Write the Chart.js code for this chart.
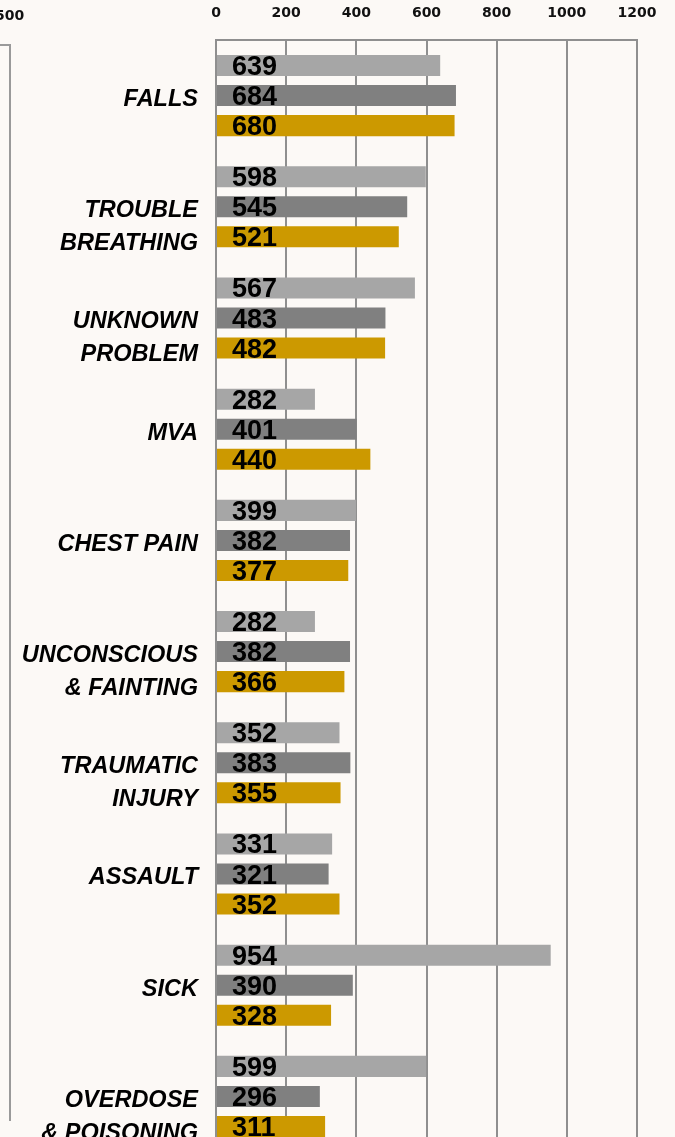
<!DOCTYPE html>
<html>
<head>
<meta charset="utf-8">
<script src="https://cdn.jsdelivr.net/npm/chart.js@4.4.0/dist/chart.umd.min.js"></script>
<style>
  html, body { margin: 0; padding: 0; background: #fcf9f6; overflow: hidden; }
  #wrap { position: relative; width: 675px; height: 1152px; }
  #sideFrame {
    position: absolute; left: -2px; top: 44px; width: 11px; height: 1075px;
    border-top: 2px solid #9a9a9a; border-right: 2px solid #9a9a9a;
  }
  #sideTick {
    position: absolute; left: -5px; top: 7px;
    font: bold 14px "DejaVu Sans", sans-serif; color: #111;
  }
</style>
</head>
<body>
<div id="wrap">
  <div id="sideFrame"></div>
  <div id="sideTick">500</div>
  <canvas id="callChart"></canvas>
</div>
<script>
const categories = [
    ["FALLS"],
    ["", "TROUBLE", "BREATHING"],
    ["", "UNKNOWN", "PROBLEM"],
    ["MVA"],
    ["CHEST PAIN"],
    ["", "UNCONSCIOUS", "& FAINTING"],
    ["", "TRAUMATIC", "INJURY"],
    ["ASSAULT"],
    ["SICK"],
    ["", "OVERDOSE", "& POISONING"]
];
const seriesA = [639, 598, 567, 282, 399, 282, 352, 331, 954, 599];
const seriesB = [684, 545, 483, 401, 382, 382, 383, 321, 390, 296];
const seriesC = [680, 521, 482, 440, 377, 366, 355, 352, 328, 311];
const xTicks = [0, 200, 400, 600, 800, 1000, 1200];

const gridGrey = "#8f8f8f";

// value labels drawn at the start of each bar
const barLabels = {
    id: "barLabels",
    afterDatasetsDraw(chart) {
        const ctx = chart.ctx;
        ctx.save();
        ctx.font = "bold 27px 'Liberation Sans', Arial, sans-serif";
        ctx.fillStyle = "#000";
        ctx.textAlign = "left";
        ctx.textBaseline = "alphabetic";
        chart.data.datasets.forEach((ds, i) => {
            chart.getDatasetMeta(i).data.forEach((bar, j) => {
                ctx.fillText(String(ds.data[j]), bar.base + 15, bar.y + 9.5);
            });
        });
        ctx.restore();
    }
};

const ctx = document.getElementById("callChart").getContext("2d");
new Chart(ctx, {
    type: "bar",
    data: {
        labels: categories,
        datasets: [
            { label: "Series 1", data: seriesA, backgroundColor: "#a6a6a6" },
            { label: "Series 2", data: seriesB, backgroundColor: "#808080" },
            { label: "Series 3", data: seriesC, backgroundColor: "#cc9900" }
        ]
    },
    options: {
        indexAxis: "y",
        responsive: true,
        maintainAspectRatio: false,
        animation: false,
        categoryPercentage: 0.81,
        barPercentage: 0.7,
        layout: { padding: { left: 0, right: 38, top: 0, bottom: 0 } },
        plugins: {
            legend: { display: false },
            tooltip: { enabled: false }
        },
        scales: {
            x: {
                position: "top",
                min: 0,
                max: 1200,
                afterBuildTicks: (scale) => {
                    scale.ticks = xTicks.map(v => ({ value: v }));
                },
                afterFit: (scale) => {
                    scale.height = 40;
                    scale.paddingLeft = 0;
                    scale.paddingRight = 0;
                },
                grid: { color: gridGrey, lineWidth: 2, drawTicks: false },
                border: { color: gridGrey, width: 2 },
                ticks: {
                    color: "#111",
                    padding: 18,
                    callback: (v) => String(v),
                    font: { family: "'DejaVu Sans', sans-serif", size: 14, weight: "bold" }
                }
            },
            y: {
                afterFit: (scale) => {
                    scale.width = 216;
                    scale.paddingTop = 0;
                    scale.paddingBottom = 0;
                },
                grid: { display: false },
                border: { display: true, color: gridGrey, width: 2 },
                ticks: {
                    color: "#000",
                    padding: 10,
                    labelOffset: 4,
                    autoSkip: false,
                    font: {
                        family: "'Liberation Sans', Arial, sans-serif",
                        size: 23.5,
                        weight: "bold",
                        style: "italic",
                        lineHeight: 1.4
                    }
                }
            }
        }
    },
    plugins: [barLabels]
});
</script>
</body>
</html>
